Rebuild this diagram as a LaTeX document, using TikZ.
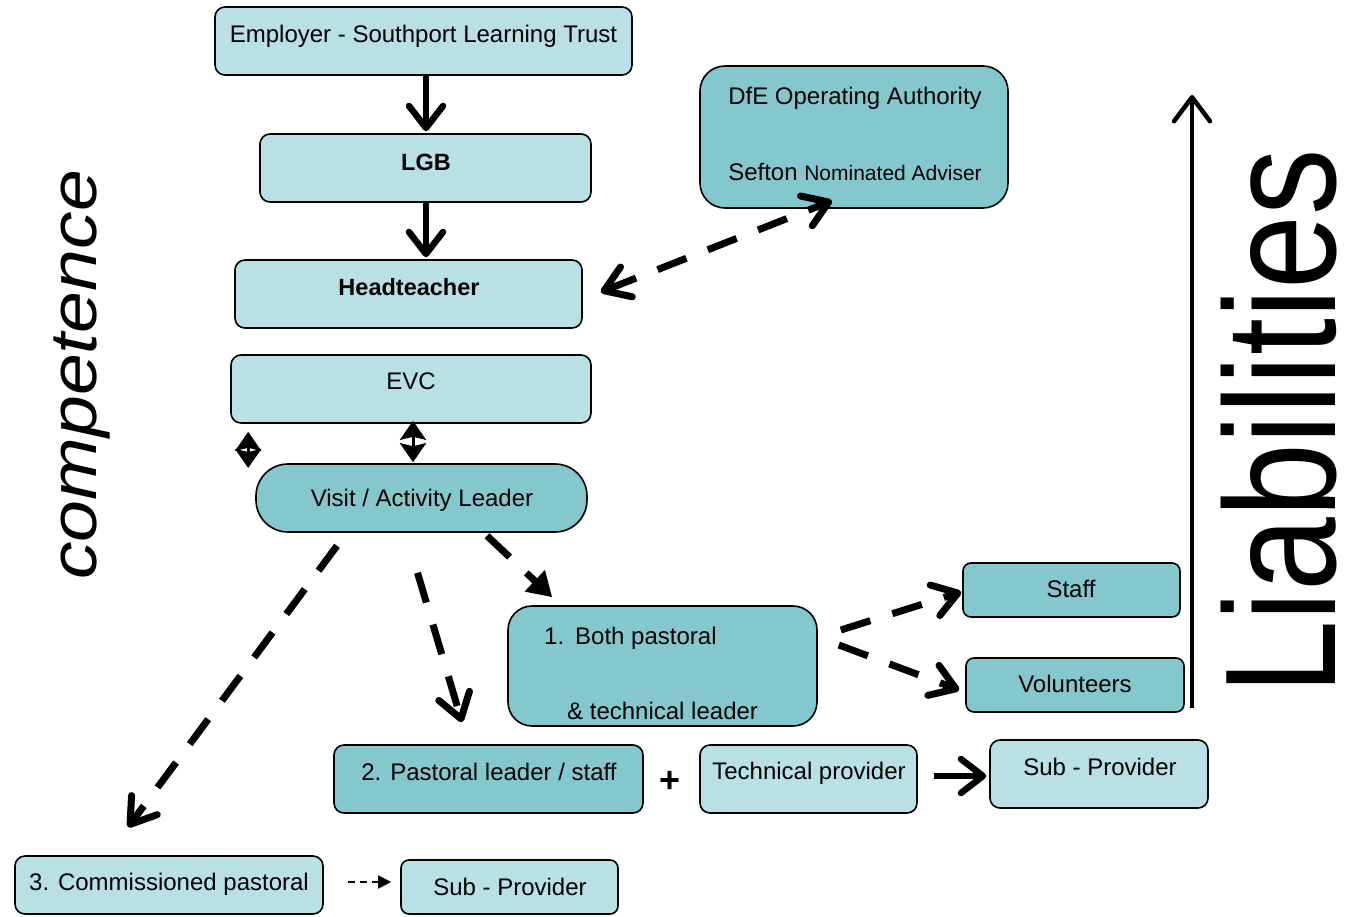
\documentclass[tikz,border=0pt]{standalone}
\usepackage{fontspec}
\setmainfont{Liberation Sans}
\usetikzlibrary{arrows.meta,calc}
\definecolor{lightbox}{RGB}{185,224,228}
\definecolor{darkbox}{RGB}{132,200,206}
\begin{document}
\begin{tikzpicture}[x=1pt,y=-1pt,
  box/.style={draw=black, line width=1.6pt, rounded corners=10pt, inner sep=0pt, fill=lightbox},
  dbox/.style={box, fill=darkbox},
  txt/.style={anchor=base, inner sep=0pt, font=\fontsize{24}{28}\selectfont},
  btxt/.style={txt, font=\fontsize{23.5}{28}\selectfont\bfseries},
  solidarr/.style={line width=6.5pt, -{Straight Barb[length=22pt,width=34pt,round]}},
  dasharr/.style={line width=7pt, dash pattern=on 31pt off 23pt, -{Straight Barb[length=24pt,width=32pt,round]}},
  dashtri/.style={line width=7pt, dash pattern=on 31pt off 23pt, -{Triangle[length=24pt,width=28pt]}},
  diamarr/.style={line width=3pt, {Stealth[length=19pt,width=26pt,inset=3pt]}-{Stealth[length=19pt,width=26pt,inset=3pt]}},
]
\fill[white] (0,0) rectangle (1347,916);
\useasboundingbox (0,0) rectangle (1347,916);

% boxes
\node[box, minimum width=417pt, minimum height=68pt] (emp) at (423.5,41) {};
\node[box, minimum width=331pt, minimum height=68pt] (lgb) at (425.5,168) {};
\node[box, minimum width=347pt, minimum height=68pt] (head) at (408.5,294) {};
\node[box, minimum width=360pt, minimum height=68pt] (evc) at (411,389) {};
\node[dbox, rounded corners=32pt, minimum width=331pt, minimum height=68pt] (visit) at (421.5,498) {};
\node[dbox, rounded corners=25pt, minimum width=308pt, minimum height=142pt] (dfe) at (854,137) {};
\node[dbox, rounded corners=24pt, minimum width=309pt, minimum height=120pt] (both) at (662.5,666) {};
\node[dbox, rounded corners=8pt, minimum width=217pt, minimum height=54pt] (staff) at (1071.5,590) {};
\node[dbox, rounded corners=8pt, minimum width=218pt, minimum height=54pt] (vol) at (1075,685) {};
\node[dbox, minimum width=309pt, minimum height=68pt] (past) at (488.5,779) {};
\node[box, minimum width=217pt, minimum height=68pt] (tech) at (808.5,779) {};
\node[box, minimum width=218pt, minimum height=68pt] (subu) at (1099,774) {};
\node[box, minimum width=308pt, minimum height=58pt] (comm) at (169,885) {};
\node[box, rounded corners=8pt, minimum width=217pt, minimum height=54pt] (subl) at (509.5,887) {};

% texts
\node[txt] (tEmp) at (423.5,42) {Employer - Southport Learning Trust};
\node[btxt] (tLgb) at (426,170) {LGB};
\node[btxt] (tHead) at (409,295) {Headteacher};
\node[txt] (tEvc) at (411,389) {EVC};
\node[txt] (tVisit) at (422,506) {Visit / Activity Leader};
\node[txt] (tDfe1) at (855,104) {DfE Operating Authority};
\node[txt] (tDfe2) at (855,180) {Sefton {\fontsize{21}{25}\selectfont Nominated Adviser}};
\node[txt, anchor=base west] (tBoth1) at (544,644) {\makebox[31pt][l]{1.}Both pastoral};
\node[txt, anchor=base west] (tBoth2) at (567,719) {\& technical leader};
\node[txt] (tStaff) at (1071,597) {Staff};
\node[txt] (tVol) at (1075,692) {Volunteers};
\node[txt] (tPast) at (489,780) {2. Pastoral leader / staff};
\node[txt, font=\fontsize{36}{38}\selectfont\bfseries] (plus) at (670,792) {+};
\node[txt] (tTech) at (809,779) {Technical provider};
\node[txt] (tSubu) at (1100,775) {Sub - Provider};
\node[txt] (tComm) at (169,890) {3. Commissioned pastoral};
\node[txt] (tSubl) at (510,895) {Sub - Provider};

% side labels
\node[anchor=base, rotate=90, inner sep=0pt, font=\fontsize{66}{70}\selectfont\itshape] (comp) at (96,375) {\scalebox{1.14}[1]{competence}};
\node[anchor=base, rotate=90, inner sep=0pt, font=\fontsize{158}{165}\selectfont] (liab) at (1335,422) {\scalebox{0.84}[1]{Liabilities}};
\coordinate (liabBot) at (1192,708);
\coordinate (liabTop) at (1192,95);

% connectors
\draw[solidarr] ($(emp.south)+(2.5,0)$) -- ($(lgb.north)+(0.5,-2)$);
\draw[solidarr] ($(lgb.south)+(0.5,0)$) -- ($(head.north)+(17.5,-2)$);
\draw[dasharr, {Straight Barb[length=24pt,width=32pt,round]}-{Straight Barb[length=24pt,width=32pt,round]}]
  ($(head.east)+(18,-2)$) -- ($(dfe.south)+(-22,-8)$);
\draw[diamarr] ($(evc.south)+(2,-3)$) -- ($(visit.north)+(-8.5,-1)$);
\draw[diamarr] ($(evc.south west)+(18,8)$) -- ($(visit.west)+(-7,-30)$);
\draw[dashtri] ($(visit.south)+(65.5,3)$) -- ($(both.north west)+(45,-8)$);
\draw[dasharr] ($(visit.south)+(-4,40)$) -- ($(past.north)+(-26.5,-22)$);
\draw[dasharr] ($(visit.south)+(-84.5,13)$) -- ($(comm.north)+(-41,-28)$);
\draw[dasharr] ($(both.east)+(23,-36)$) -- ($(staff.west)+(-1,2)$);
\draw[dasharr] ($(both.east)+(21,-21)$) -- ($(vol.west)+(-6,5)$);
\draw[solidarr] ($(tech.east)+(16,-3)$) -- ($(subu.west)+(-3,2)$);
\draw[line width=1.8pt, dash pattern=on 7pt off 5pt, -{Triangle[length=13pt,width=13pt]}]
  ($(comm.east)+(24,-3)$) -- ($(subl.west)+(-9,-5)$);
\draw[line width=4.5pt, -{Straight Barb[length=24pt,width=36pt,round]}] (liabBot) -- (liabTop);
\end{tikzpicture}
\end{document}
